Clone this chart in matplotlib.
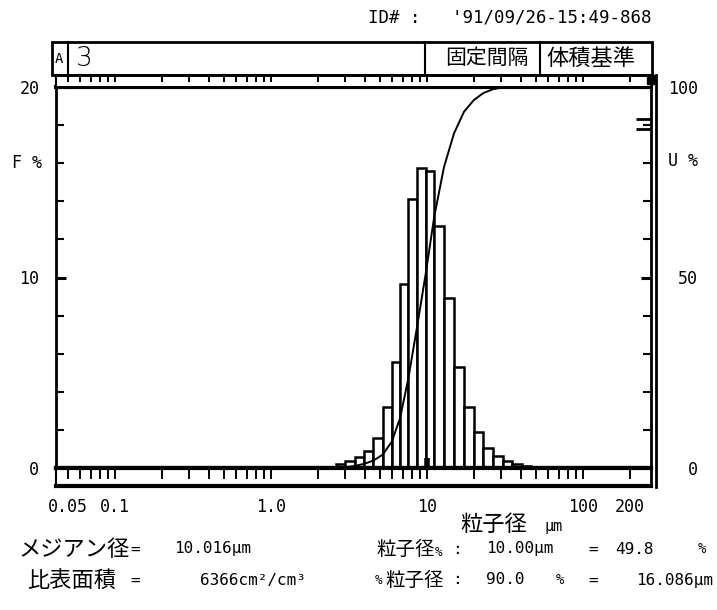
import matplotlib
matplotlib.use("Agg")
import numpy as np
import matplotlib.pyplot as plt
from matplotlib.ticker import NullFormatter, NullLocator
from matplotlib.patches import Rectangle
from matplotlib.lines import Line2D

W, H = 717, 610
MONO = "DejaVu Sans Mono"
JP = "Noto Sans CJK JP"

# channel edges (um) and frequency F%
edges = [2.61, 2.98, 3.45, 3.96, 4.53, 5.20, 5.94, 6.71, 7.59, 8.59, 9.81,
         11.13, 12.85, 14.89, 17.26, 20.0, 22.96, 26.38, 30.56, 35.06, 40.46, 46.2, 52.9]
freq = [0.21, 0.35, 0.56, 0.87, 1.58, 3.21, 5.58, 9.65, 14.12, 15.75, 15.58,
        12.68, 8.91, 5.29, 3.21, 1.89, 1.05, 0.65, 0.35, 0.23, 0.12, 0.05]
# cumulative undersize U% at the channel edges
cum = [0, 0.2, 0.55, 1.1, 1.95, 3.5, 6.9, 13.0, 23.5, 36.5, 51.0,
       66.0, 79.0, 87.8, 93.5, 96.6, 98.4, 99.4, 99.9, 100, 100]

median = 10.016
p90 = 90.0

x_labels = [0.05, 0.1, 1.0, 10, 100, 200]
x_label_txt = ["0.05", "0.1", "1.0", "10", "100", "200"]
x_minor = [0.06, 0.07, 0.08, 0.09, 0.2, 0.3, 0.4, 0.5, 0.6, 0.7, 0.8, 0.9,
           2, 3, 4, 5, 6, 7, 8, 9, 20, 30, 40, 50, 60, 70, 80, 90]
XLIM = (0.0418, 273)


def fx(x):
    return x / W


def fy(y):
    return 1 - y / H


fig = plt.figure(figsize=(W / 100, H / 100), dpi=100)
fig.patch.set_facecolor("white")

# main plot
ax = fig.add_axes([fx(56), fy(468), (651 - 56) / W, (468 - 87) / H])
ax.set_xscale("log")
ax.set_xlim(*XLIM)
ax.set_ylim(0, 20)
ax.bar(edges[:-1], freq, width=np.diff(edges), align="edge",
       color="white", edgecolor="black", linewidth=1.8, zorder=2)
ax.set_xticks([])
ax.xaxis.set_minor_locator(NullLocator())
ax.set_yticks([0, 10, 20], ["0", "10", "20"])
ax.set_yticks([2, 4, 6, 8, 12, 14, 16, 18], minor=True)
ax.tick_params(axis="y", which="both", direction="in", length=6, width=1.5,
               pad=12, labelsize=12)
ax.tick_params(axis="y", which="major", length=7, width=2.2)
for lab in ax.get_yticklabels():
    lab.set_fontfamily(MONO)
for side, lw in [("top", 3), ("bottom", 3), ("left", 2), ("right", 2)]:
    ax.spines[side].set_linewidth(lw)
# median marker
ax.vlines(median, -0.3, 0.5, color="black", lw=4, zorder=4, clip_on=False)

ax2 = ax.twinx()
ax2.set_ylim(0, 100)
ax2.plot(edges[:len(cum)], cum, color="black", lw=1.4, zorder=5)
ax2.set_yticks([0, 50, 100], ["0", "50", "100"])
ax2.set_yticks([10, 20, 30, 40, 60, 70, 80, 90], minor=True)
ax2.tick_params(axis="y", which="both", direction="in", length=6, width=1.5,
                pad=34, labelsize=12)
ax2.tick_params(axis="y", which="major", length=7, width=2.2)
for lab in ax2.get_yticklabels():
    lab.set_fontfamily(MONO)
    lab.set_ha("right")
for side in ax2.spines:
    ax2.spines[side].set_visible(False)
# 90% marks on the U axis
ax2.hlines([p90 - 1.1, p90 + 1.6], 0.975, 1.0, color="black", lw=2,
           transform=ax2.get_yaxis_transform())

# bottom tick strip
sb = fig.add_axes([fx(56), fy(486), (651 - 56) / W, 18 / H])
sb.set_xscale("log")
sb.set_xlim(*XLIM)
sb.set_yticks([])
sb.set_xticks(x_labels, x_label_txt)
sb.set_xticks(x_minor, minor=True)
sb.xaxis.set_minor_formatter(NullFormatter())
sb.tick_params(axis="x", which="both", direction="in", top=True, bottom=False,
               length=8, width=1.4, pad=9, labelsize=12)
for lab in sb.get_xticklabels():
    lab.set_fontfamily(MONO)
for side, lw in [("top", 3), ("bottom", 3), ("left", 1.5), ("right", 2)]:
    sb.spines[side].set_linewidth(lw)

# top tick strip
st = fig.add_axes([fx(56), fy(86), (651 - 56) / W, 11 / H])
st.set_xscale("log")
st.set_xlim(*XLIM)
st.set_yticks([])
st.set_xticks(x_labels, [""] * len(x_labels))
st.set_xticks(x_minor, minor=True)
st.xaxis.set_minor_formatter(NullFormatter())
st.tick_params(axis="x", which="both", direction="in", top=True, bottom=False,
               labelbottom=False, length=5, width=1.4)
st.spines["bottom"].set_visible(False)
st.spines["left"].set_linewidth(1.5)
st.spines["top"].set_linewidth(2)
st.spines["right"].set_linewidth(2)

# header box
fig.add_artist(Rectangle((fx(52), fy(75)), 600 / W, 33 / H, transform=fig.transFigure,
                         fill=False, lw=2, color="black"))
for xd in [68, 425, 540]:
    fig.add_artist(Line2D([fx(xd), fx(xd)], [fy(42), fy(75)], color="black", lw=1.5))
fig.add_artist(Rectangle((fx(647), fy(84)), 8 / W, 9 / H, transform=fig.transFigure,
                         color="black"))
fig.add_artist(Line2D([fx(656), fx(656)], [fy(75), fy(487)], color="black", lw=2))

fig.text(fx(55), fy(59), "A", family=MONO, fontsize=10, va="center")
fig.text(fx(76), fy(58), "3", family="DejaVu Sans", fontsize=19, va="center",
         fontweight="light")
fig.text(fx(445), fy(58), "固定間隔", family=JP, fontsize=15, va="center")
fig.text(fx(546), fy(58), "体積基準", family=JP, fontsize=16, va="center")
fig.text(fx(652), fy(18), "ID# :   '91/09/26-15:49-868", family=MONO,
         fontsize=12.5, va="center", ha="right")

fig.text(fx(12), fy(163), "F %", family=MONO, fontsize=12, va="center")
fig.text(fx(668), fy(161), "U %", family=MONO, fontsize=12, va="center")

# axis title
fig.text(fx(460), fy(524), "粒子径", family=JP, fontsize=16, va="center")
fig.text(fx(545), fy(527), "μm", family=MONO, fontsize=11, va="center")

# result rows
rows = [
    (18, 549, "メジアン径", JP, 16), (130, 549, "=", MONO, 11.5),
    (174, 549, "10.016μm", MONO, 11.5),
    (376, 549, "粒子径", JP, 14), (435, 552, "%", MONO, 9),
    (452, 549, ":", MONO, 11.5), (486, 549, "10.00μm", MONO, 11.5),
    (588, 549, "=", MONO, 11.5), (615, 549, "49.8", MONO, 11.5),
    (698, 549, "%", MONO, 10),
    (27, 580, "比表面積", JP, 16), (130, 580, "=", MONO, 11.5),
    (200, 580, "6366cm²/cm³", MONO, 11.5),
    (375, 581, "%", MONO, 9), (385, 580, "粒子径", JP, 14),
    (452, 580, ":", MONO, 11.5), (486, 580, "90.0", MONO, 11.5),
    (556, 580, "%", MONO, 10), (588, 580, "=", MONO, 11.5),
    (636, 580, "16.086μm", MONO, 11.5),
]
for x, y, s, fam, size in rows:
    fig.text(fx(x), fy(y), s, family=[fam, JP], fontsize=size, va="center")

fig.savefig("out.png", dpi=100, facecolor="white")
